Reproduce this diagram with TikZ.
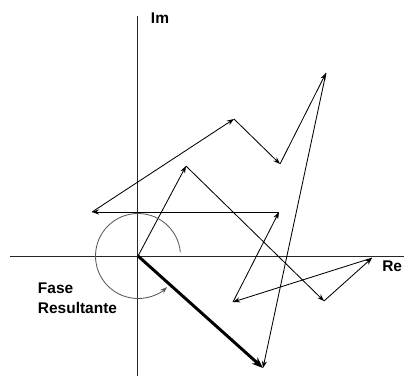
\documentclass[tikz,border=0pt]{standalone}
\usepackage{fontspec}
\setmainfont{Liberation Sans}
\usetikzlibrary{arrows.meta}
\tikzset{
  axisline/.style={black!85, line width=0.6pt},
  phasor/.style={-{Stealth[length=5pt, width=3.6pt]}, line width=0.6pt},
  resultant/.style={-{Stealth[length=8pt, width=6pt]}, line width=2.1pt},
  axislabel/.style={font=\bfseries\fontsize{11}{14}\selectfont}
}

\begin{document}
\begin{tikzpicture}[x=0.25mm, y=-0.25mm]
\useasboundingbox (0,0) rectangle (404,376);
\coordinate (O) at (138,256);
\coordinate (A) at (186,166); \coordinate (B) at (324,301);
\coordinate (C) at (372,258); \coordinate (D) at (233,302);
\coordinate (E) at (279,212); \coordinate (F) at (92,212);
\coordinate (G) at (234,119); \coordinate (H) at (280,164);
\coordinate (I) at (326,73);  \coordinate (J) at (263,368);
\coordinate (ReL) at (10,256); \coordinate (ReR) at (404,256);
\coordinate (ImT) at (137,16); \coordinate (ImB) at (137,376);
\draw[axisline] (ReL) -- (ReR);
\draw[axisline] (ImT) -- (ImB);
\node[axislabel, anchor=west] (Im) at (146,18) {Im};
\node[axislabel, anchor=east, inner sep=0.5pt] (Re) at (403,266) {Re};
\draw[phasor] (O) -- (A); \draw[phasor] (A) -- (B);
\draw[phasor] (B) -- (C); \draw[phasor] (C) -- (D);
\draw[phasor] (D) -- (E); \draw[phasor] (E) -- (F);
\draw[phasor] (F) -- (G); \draw[phasor] (G) -- (H);
\draw[phasor] (H) -- (I); \draw[phasor] (I) -- (J);
\draw[resultant] (O) -- (J);
\draw[black!65, line width=0.6pt, -{Stealth[length=5pt, width=3.6pt]}] (O) ++(-5:42.5) arc (-5:-313:42.5);
\node[axislabel, anchor=west, align=left] (fase) at (33,298) {Fase\\Resultante};
\end{tikzpicture}
\end{document}
